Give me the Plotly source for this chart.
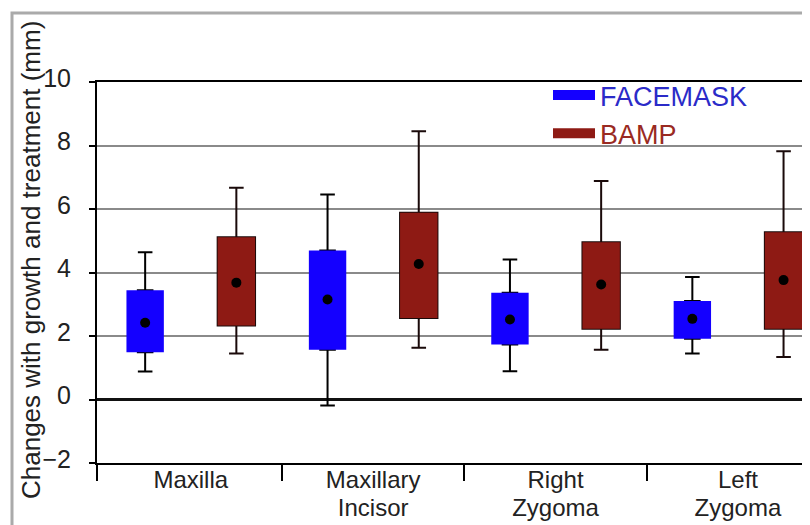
import plotly.graph_objects as go

# ---------------- data ----------------
categories = ["Maxilla", "Maxillary Incisor", "Right Zygoma", "Left Zygoma"]
label_top = ["Maxilla", "Maxillary", "Right", "Left"]
label_bottom = ["", "Incisor", "Zygoma", "Zygoma"]
y_ticks = [-2, 0, 2, 4, 6, 8, 10]
y_title = "Changes with growth and treatment (mm)"

series_names = ["FACEMASK", "BAMP"]

fm_lower = [0.88, -0.19, 0.89, 1.45]
fm_q1 = [1.49, 1.57, 1.73, 1.91]
fm_median = [2.42, 3.15, 2.52, 2.54]
fm_q3 = [3.44, 4.69, 3.36, 3.10]
fm_upper = [4.64, 6.46, 4.41, 3.86]

bamp_lower = [1.45, 1.63, 1.57, 1.34]
bamp_q1 = [2.33, 2.57, 2.23, 2.23]
bamp_median = [3.68, 4.27, 3.62, 3.76]
bamp_q3 = [5.11, 5.88, 4.95, 5.27]
bamp_upper = [6.67, 8.45, 6.88, 7.82]

# ---------------- style ----------------
FONT = "Liberation Sans, Arial, sans-serif"
PAGE_OFFSET = 8            # default body margin of the html page
W, H = 810 - PAGE_OFFSET, 525 - PAGE_OFFSET
ML, MR, MT, MB = 97 - PAGE_OFFSET, 0, 82 - PAGE_OFFSET, 62
X_RANGE = [-0.514, 3.395]
Y_RANGE = [-2, 10]
BOX_W = 0.205
CAP_W = 0.08

plot_w = W - ML - MR
plot_h = H - MT - MB


def px_x(xw):   # window x pixel -> paper coordinate
    return (xw - PAGE_OFFSET - ML) / plot_w


def px_y(yw):   # window y pixel -> paper coordinate
    return (H - MB - (yw - PAGE_OFFSET)) / plot_h


styles = [
    dict(offset=-0.25, fill="#1400ff", text="#2b2bc8", outline=False,
         lower=fm_lower, q1=fm_q1, med=fm_median, q3=fm_q3, upper=fm_upper),
    dict(offset=0.25, fill="#8e1a14", text="#9a2a22", outline=True,
         lower=bamp_lower, q1=bamp_q1, med=bamp_median, q3=bamp_q3, upper=bamp_upper),
]

fig = go.Figure()
idx = list(range(len(categories)))

for name, st in zip(series_names, styles):
    xpos = [i + st["offset"] for i in idx]
    # whiskers with caps; for outlined series the box edge shows around the body
    under_w = BOX_W if st["outline"] else CAP_W
    fig.add_trace(go.Box(
        x=xpos, q1=st["q1"], median=st["med"], q3=st["q3"],
        lowerfence=st["lower"], upperfence=st["upper"],
        width=under_w, whiskerwidth=CAP_W / under_w, boxpoints=False,
        line=dict(color="#1a0a0a" if st["outline"] else "black", width=2),
        fillcolor="rgba(0,0,0,0)",
        showlegend=False, hoverinfo="skip"))
    # box body
    fig.add_trace(go.Box(
        x=xpos, q1=st["q1"], median=st["med"], q3=st["q3"],
        lowerfence=st["lower"], upperfence=st["upper"],
        width=BOX_W, boxpoints=False,
        line=dict(color=st["fill"], width=0), fillcolor=st["fill"],
        showlegend=False, name=name))
    # central dot
    fig.add_trace(go.Scatter(
        x=xpos, y=st["med"], mode="markers",
        marker=dict(color="black", size=10, symbol="circle"),
        showlegend=False, hoverinfo="skip"))

for name, st in zip(series_names, styles):
    fig.add_trace(go.Scatter(
        x=[None], y=[None], mode="lines",
        line=dict(color=st["fill"], width=11),
        name=f'<span style="color:{st["text"]}">{name}</span>'))

# invisible traces so the label axes get drawn
for ax in ["x2", "x3"]:
    fig.add_trace(go.Scatter(x=[None], y=[None], xaxis=ax, yaxis="y",
                             showlegend=False, hoverinfo="skip"))

boundaries = [X_RANGE[0]] + [i + 0.5 for i in idx[:-1]]
label_font = dict(size=24, family=FONT, color="#222222")

fig.update_layout(
    width=W, height=H,
    margin=dict(l=ML, r=MR, t=MT, b=MB, pad=0, autoexpand=False),
    paper_bgcolor="white", plot_bgcolor="white",
    boxmode="overlay",
    font=dict(family=FONT, color="#222222"),
    showlegend=True,
    legend=dict(x=px_x(548), y=px_y(71), xanchor="left", yanchor="top",
                bgcolor="rgba(0,0,0,0)", font=dict(size=27, family=FONT),
                itemwidth=42, tracegroupgap=0),
    xaxis=dict(range=X_RANGE, tickvals=boundaries, showticklabels=False,
               ticks="outside", ticklen=16, tickwidth=2, tickcolor="black",
               showgrid=False, zeroline=False, showline=True, linecolor="black",
               linewidth=2, mirror=True, automargin=False),
    xaxis2=dict(range=X_RANGE, overlaying="x", anchor="y", side="bottom",
                tickvals=idx, ticktext=label_top, ticks="", showgrid=False,
                zeroline=False, showline=False, ticklabelstandoff=0,
                tickfont=label_font, automargin=False),
    xaxis3=dict(range=X_RANGE, overlaying="x", anchor="y", side="bottom",
                tickvals=idx, ticktext=label_bottom, ticks="", showgrid=False,
                zeroline=False, showline=False, ticklabelstandoff=28,
                tickfont=label_font, automargin=False),
    yaxis=dict(range=Y_RANGE, tickvals=y_ticks, ticks="outside", ticklen=6,
               tickwidth=2, tickcolor="black", showgrid=True,
               gridcolor="#8a8a8a", gridwidth=1.5, zeroline=True,
               zerolinecolor="#111111", zerolinewidth=2.5, showline=True,
               linecolor="black", linewidth=2, ticklabelshift=-4,
               ticklabelstandoff=13, automargin=False,
               tickfont=dict(size=25, family=FONT, color="#222222")),
    annotations=[dict(text=y_title, textangle=-90, xref="paper", yref="paper",
                      x=px_x(31), y=px_y(260), xanchor="center", yanchor="middle",
                      showarrow=False,
                      font=dict(size=26, family=FONT, color="#222222"))],
    shapes=[dict(type="rect", xref="paper", yref="paper",
                 x0=px_x(12), x1=1.2, y0=-0.5, y1=px_y(13),
                 line=dict(color="#aaaaaa", width=3), layer="below")],
)

fig.write_html("out.html")
